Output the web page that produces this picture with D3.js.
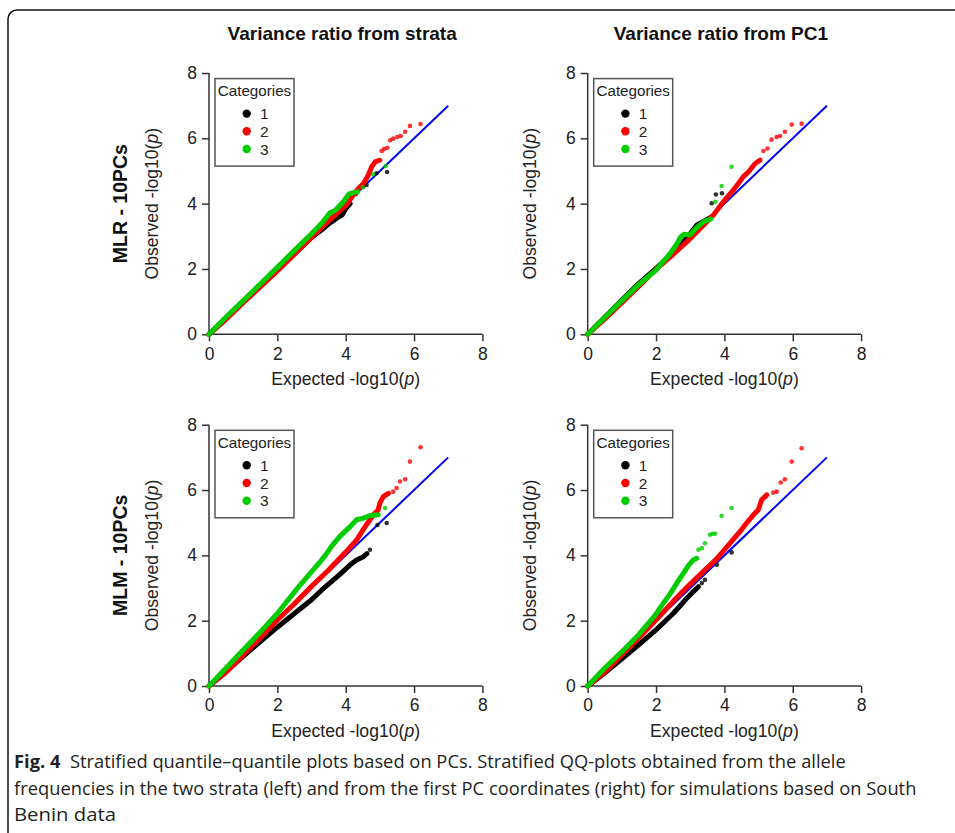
<!DOCTYPE html>
<html lang="en">
<head>
<meta charset="UTF-8">
<title>Stratified QQ plots</title>
<script src="https://d3js.org/d3.v7.min.js"></script>
<style>
  body { margin: 0; background: #fff; }
  svg { display: block; }
</style>
</head>
<body>
<script>
// ---- data ----
const categories = ["1", "2", "3"];
const catColors = ["#000000", "#ff0000", "#00cc00"];
const panelTitles = ["Variance ratio from strata", "Variance ratio from PC1"];
const rowLabels = ["MLR - 10PCs", "MLM - 10PCs"];
const ticks = [0, 2, 4, 6, 8];
const diagonal = [[0, 0], [7, 7]];

// MLR, strata
const mlrStrata1 = [[0,0],[0.5,0.5],[1,1],[1.5,1.49],[2,1.97],[2.5,2.47],[3,2.96],[3.3,3.2],[3.5,3.38],[3.8,3.6],[3.9,3.66],[4.0,3.85],[4.13,4.0]];
const mlrStrata1Tail = [[4.3,4.3],[4.42,4.48],[4.51,4.52],[4.61,4.57],[4.9,4.93],[5.21,4.97]];
const mlrStrata2 = [[0,0],[0.5,0.46],[1,0.97],[1.5,1.45],[2,1.94],[2.5,2.45],[3,2.97],[3.5,3.47],[4.03,3.97],[4.22,4.26],[4.37,4.46],[4.52,4.62],[4.66,4.87],[4.76,5.13],[4.86,5.28],[5.0,5.33]];
const mlrStrata2Tail = [[5.05,5.61],[5.12,5.67],[5.22,5.71],[5.3,5.94],[5.39,5.99],[5.51,6.04],[5.61,6.07],[5.74,6.2],[5.88,6.38],[6.19,6.44]];
const mlrStrata3 = [[0,0],[0.5,0.53],[1,1.03],[1.5,1.54],[2,2.05],[2.5,2.57],[3,3.08],[3.3,3.4],[3.54,3.72],[3.7,3.8],[3.93,4.06],[4.1,4.3],[4.35,4.37]];
const mlrStrata3Tail = [[4.5,4.5],[4.8,4.9],[5.17,5.15]];

// MLR, PC1
const mlrPC1_1 = [[0,0],[0.5,0.52],[1,1.05],[1.5,1.56],[2,2.02],[2.5,2.5],[2.9,2.95],[3.2,3.35],[3.4,3.46],[3.6,3.58]];
const mlrPC1_1Tail = [[3.63,4.01],[3.75,4.28],[3.93,4.32]];
const mlrPC1_2 = [[0,0],[0.5,0.47],[1,0.97],[1.5,1.47],[2,1.99],[2.5,2.45],[2.9,2.83],[3.29,3.24],[3.68,3.65],[3.97,4.06],[4.26,4.41],[4.55,4.82],[4.7,4.97],[4.9,5.23],[5.04,5.33]];
const mlrPC1_2Tail = [[5.14,5.61],[5.26,5.69],[5.38,5.96],[5.53,6.04],[5.63,6.07],[5.77,6.2],[5.97,6.42],[6.26,6.45]];
const mlrPC1_3 = [[0,0],[0.5,0.52],[1,1.03],[1.53,1.56],[2,1.97],[2.41,2.47],[2.6,2.75],[2.72,2.98],[2.82,3.06],[2.99,3.04],[3.19,3.27],[3.4,3.45],[3.6,3.53]];
const mlrPC1_3Tail = [[3.73,4.06],[3.92,4.54],[4.21,5.13]];

// MLM, strata
const mlmStrata1 = [[0,0],[0.5,0.45],[1,0.91],[1.5,1.36],[2,1.8],[2.5,2.22],[3,2.64],[3.3,2.94],[3.83,3.42],[4.13,3.71],[4.32,3.86],[4.52,3.96],[4.62,4.05]];
const mlmStrata1Tail = [[4.71,4.17],[4.93,4.93],[5.2,4.99]];
const mlmStrata2 = [[0,0],[0.5,0.42],[1,0.95],[1.5,1.48],[2,2.02],[2.5,2.52],[3,3.05],[3.5,3.55],[4.0,4.1],[4.32,4.47],[4.57,4.88],[4.71,5.09],[4.81,5.24],[4.95,5.39],[5.0,5.6],[5.1,5.8],[5.25,5.9]];
const mlmStrata2Tail = [[5.39,5.95],[5.49,6.06],[5.59,6.26],[5.74,6.33],[5.88,6.87],[6.19,7.31]];
const mlmStrata3 = [[0,0],[0.5,0.55],[1,1.1],[1.5,1.65],[2,2.22],[2.5,2.88],[2.96,3.45],[3.25,3.8],[3.44,4.05],[3.6,4.3],[3.83,4.58],[4.13,4.88],[4.32,5.09],[4.52,5.14],[4.71,5.22],[4.95,5.24]];
const mlmStrata3Tail = [[5.15,5.45]];

// MLM, PC1
const mlmPC1_1 = [[0,0],[0.5,0.4],[1,0.83],[1.5,1.27],[2,1.72],[2.5,2.22],[2.7,2.45],[2.9,2.69],[3.09,2.89],[3.24,3.04]];
const mlmPC1_1Tail = [[3.34,3.15],[3.43,3.25],[3.78,3.71],[4.21,4.09]];
const mlmPC1_2 = [[0,0],[0.5,0.43],[1,0.95],[1.5,1.48],[2,2.02],[2.51,2.6],[3,3.12],[3.38,3.5],[3.78,3.9],[4.16,4.37],[4.46,4.73],[4.65,4.99],[4.85,5.24],[4.99,5.39],[5.09,5.7],[5.24,5.85]];
const mlmPC1_2Tail = [[5.43,5.92],[5.53,5.95],[5.65,6.23],[5.77,6.33],[5.97,6.87],[6.26,7.28]];
const mlmPC1_3 = [[0,0],[0.5,0.55],[1,1.05],[1.5,1.58],[2,2.2],[2.12,2.4],[2.41,2.82],[2.65,3.22],[2.8,3.45],[2.94,3.68],[3.09,3.86],[3.19,3.91]];
const mlmPC1_3Tail = [[3.24,4.17],[3.34,4.22],[3.43,4.37],[3.58,4.63],[3.65,4.66],[3.73,4.66],[3.92,5.21],[4.21,5.45]];

const captionLines = [
  ["Fig. 4", "  Stratified quantile\u2013quantile plots based on PCs. Stratified QQ-plots obtained from the allele"],
  ["", "frequencies in the two strata (left) and from the first PC coordinates (right) for simulations based on South"],
  ["", "Benin data"]
];

// ---- layout ----
const width = 955, height = 833;
const colX = [209, 587.7];      // x of the y axis in each column
const rowY = [334.3, 686];      // y of the x axis in each row
const plotW = 273.4, plotH = 261.3;
const axisFont = "Liberation Sans, Arial, sans-serif";

const panels = [
  { row: 0, col: 0, dense: [mlrStrata1, mlrStrata2, mlrStrata3], tail: [mlrStrata1Tail, mlrStrata2Tail, mlrStrata3Tail] },
  { row: 0, col: 1, dense: [mlrPC1_1, mlrPC1_2, mlrPC1_3], tail: [mlrPC1_1Tail, mlrPC1_2Tail, mlrPC1_3Tail] },
  { row: 1, col: 0, dense: [mlmStrata1, mlmStrata2, mlmStrata3], tail: [mlmStrata1Tail, mlmStrata2Tail, mlmStrata3Tail] },
  { row: 1, col: 1, dense: [mlmPC1_1, mlmPC1_2, mlmPC1_3], tail: [mlmPC1_1Tail, mlmPC1_2Tail, mlmPC1_3Tail] }
];

const svg = d3.select("body").append("svg")
  .attr("width", width)
  .attr("height", height);

// frame with rounded top-left corner
svg.append("path")
  .attr("d", "M8," + (height + 2) + " L8,19 A9,9 0 0 1 17,10 L" + (width + 2) + ",10")
  .attr("fill", "none")
  .attr("stroke", "#111")
  .attr("stroke-width", 1.5);

panels.forEach(p => {
  const ox = colX[p.col], oy = rowY[p.row];
  const x = d3.scaleLinear().domain([0, 8]).range([ox, ox + plotW]);
  const y = d3.scaleLinear().domain([0, 8]).range([oy, oy - plotH]);
  const g = svg.append("g");

  // axes, R style
  const xAxis = g.append("g").attr("transform", `translate(0,${oy})`)
    .call(d3.axisBottom(x).tickValues(ticks).tickSize(7).tickPadding(6).tickFormat(d3.format("d")));
  const yAxis = g.append("g").attr("transform", `translate(${ox},0)`)
    .call(d3.axisLeft(y).tickValues(ticks).tickSize(7).tickPadding(5).tickFormat(d3.format("d")));
  [xAxis, yAxis].forEach(a => {
    a.select(".domain").attr("stroke", "#333").attr("stroke-width", 1.5);
    a.selectAll(".tick line").attr("stroke", "#333").attr("stroke-width", 1.5);
    a.selectAll(".tick text").attr("font-family", axisFont).attr("font-size", 17.5).attr("fill", "#222");
  });
  // d3 axes draw outer ticks on the domain path; keep it a plain line
  xAxis.select(".domain").attr("d", `M${x(0)},0H${x(8)}`);
  yAxis.select(".domain").attr("d", `M0,${y(0)}V${y(8)}`);

  // axis labels
  const xl = g.append("text")
    .attr("x", ox + plotW / 2).attr("y", oy + 50.5)
    .attr("text-anchor", "middle")
    .attr("font-family", axisFont).attr("font-size", 17.6).attr("fill", "#222");
  xl.append("tspan").text("Expected -log10(");
  xl.append("tspan").attr("font-style", "italic").text("p");
  xl.append("tspan").text(")");

  const yl = g.append("text")
    .attr("transform", `translate(${ox - 51.5},${oy - plotH / 2}) rotate(-90)`)
    .attr("text-anchor", "middle")
    .attr("font-family", axisFont).attr("font-size", 17.6).attr("fill", "#222");
  yl.append("tspan").text("Observed -log10(");
  yl.append("tspan").attr("font-style", "italic").text("p");
  yl.append("tspan").text(")");

  if (p.row === 0) {
    g.append("text")
      .attr("x", ox + plotW / 2 - 3.5).attr("y", 40)
      .attr("text-anchor", "middle")
      .attr("font-family", axisFont).attr("font-weight", "bold").attr("font-size", 19)
      .attr("fill", "#111")
      .text(panelTitles[p.col]);
  }
  if (p.col === 0) {
    g.append("text")
      .attr("transform", `translate(127,${oy - plotH / 2}) rotate(-90)`)
      .attr("text-anchor", "middle")
      .attr("font-family", axisFont).attr("font-weight", "bold").attr("font-size", 19.5)
      .attr("fill", "#111")
      .text(rowLabels[p.row]);
  }

  // reference line
  g.append("line")
    .attr("x1", x(diagonal[0][0])).attr("y1", y(diagonal[0][1]))
    .attr("x2", x(diagonal[1][0])).attr("y2", y(diagonal[1][1]))
    .attr("stroke", "#0000ff").attr("stroke-width", 2);

  const line = d3.line().x(d => x(d[0])).y(d => y(d[1]));

  categories.forEach((c, i) => {
    // the bulk of the points overlap into a thick band
    g.append("path")
      .datum(p.dense[i])
      .attr("d", line)
      .attr("fill", "none")
      .attr("stroke", catColors[i])
      .attr("stroke-width", 5)
      .attr("stroke-linejoin", "round")
      .attr("stroke-linecap", "round");
    g.selectAll(null)
      .data(p.tail[i])
      .enter().append("circle")
      .attr("cx", d => x(d[0]))
      .attr("cy", d => y(d[1]))
      .attr("r", 2.3)
      .attr("fill", catColors[i])
      .attr("opacity", 0.8);
  });

  // legend
  const lx = ox + 6, ly = y(8) + 5.6;
  const lg = g.append("g").attr("transform", `translate(${lx},${ly})`);
  lg.append("rect")
    .attr("width", 79).attr("height", 87.5)
    .attr("fill", "#fff").attr("stroke", "#555").attr("stroke-width", 1.5);
  lg.append("text")
    .attr("x", 39.5).attr("y", 17.5)
    .attr("text-anchor", "middle")
    .attr("font-family", axisFont).attr("font-size", 15.2).attr("fill", "#222")
    .text("Categories");
  categories.forEach((c, i) => {
    const cy = 35 + i * 17.7;
    lg.append("circle").attr("cx", 31.7).attr("cy", cy).attr("r", 4.2).attr("fill", catColors[i]);
    lg.append("text")
      .attr("x", 45).attr("y", cy).attr("dy", "0.36em")
      .attr("font-family", axisFont).attr("font-size", 15.5).attr("fill", "#222")
      .text(c);
  });
});

// caption, stretched to the width of the original typesetting
const captionY = [768, 795, 821];
const captionRight = [846, 917, 116];
captionLines.forEach((ln, i) => {
  const t = svg.append("text")
    .attr("font-family", "Open Sans, Noto Sans, sans-serif")
    .attr("font-size", 18.5)
    .attr("fill", "#231f20");
  if (ln[0]) t.append("tspan").attr("font-weight", "bold").text(ln[0]);
  t.append("tspan").attr("xml:space", "preserve").style("white-space", "pre").text(ln[1]);
  const w = t.node().getComputedTextLength();
  const k = (captionRight[i] - 14) / w;
  t.attr("transform", `translate(14,${captionY[i]}) scale(${k},1)`);
});
</script>
</body>
</html>
